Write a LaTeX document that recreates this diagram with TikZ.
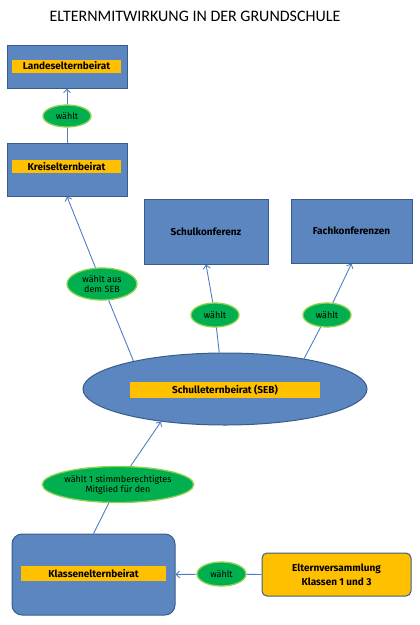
\documentclass[tikz,border=0pt]{standalone}
\usepackage{fontspec}
\setmainfont{Carlito}
\newfontfamily\labelFont{Fira Sans}
\usetikzlibrary{shapes.geometric,arrows.meta}

\begin{document}
\begin{tikzpicture}[x=1pt, y=-1pt,
    box/.style={rectangle, draw=borderColour, fill=fillColourBox, line width=1pt, inner sep=0pt,
        font=\labelFont\bfseries\fontsize{10}{11}\selectfont},
    labelBar/.style={rectangle, fill=fillColourLabel, inner sep=0pt, minimum height=13,
        font=\labelFont\bfseries\fontsize{10}{11}\selectfont},
    vote/.style={ellipse, draw=voteBorder, fill=voteFill, line width=1.3pt, inner sep=0pt,
        align=center, font=\labelFont\fontsize{9}{10}\selectfont},
    link/.style={draw=linkColour, line width=0.9pt},
    linkArrow/.style={link, -{Straight Barb[length=3.5pt,width=7pt]}}]

    \definecolor{borderColour}{HTML}{385D8A}
    \definecolor{fillColourBox}{HTML}{5B86C0}
    \definecolor{fillColourLabel}{HTML}{FFC000}
    \definecolor{voteFill}{HTML}{00B050}
    \definecolor{voteBorder}{HTML}{92D050}
    \definecolor{linkColour}{HTML}{4F7FBE}

    \useasboundingbox (0,0) rectangle (420,625);

    % Title
    \node[font=\fontsize{16}{18}\selectfont] (title) at (195,16) {ELTERNMITWIRKUNG IN DER GRUNDSCHULE};

    % Upper boards
    \node[box, minimum width=120, minimum height=43] (landes) at (67,66.5) {};
    \node[labelBar, minimum width=109] (landesLabel) at (66.5,66) {Landeselternbeirat};
    \node[box, minimum width=120, minimum height=53] (kreis) at (67,169.5) {};
    \node[labelBar, minimum width=109] (kreisLabel) at (66.5,166.5) {Kreiselternbeirat};
    \node[box, minimum width=124, minimum height=65] (schulkonf) at (206,231.5) {Schulkonferenz};
    \node[box, minimum width=121, minimum height=64] (fachkonf) at (351.5,231) {Fachkonferenzen};

    % School parents' council
    \node[ellipse, draw=borderColour, fill=fillColourBox, line width=1pt, inner sep=0pt,
        minimum width=284, minimum height=72] (seb) at (225,389) {};
    \node[labelBar, minimum width=190, minimum height=16] (sebLabel) at (225,390) {Schulleternbeirat (SEB)};

    % Class level
    \node[box, rounded corners=10, minimum width=163, minimum height=81] (klassen) at (93.5,574.5) {};
    \node[labelBar, minimum width=145, minimum height=15] (klassenLabel) at (93.5,573.5) {Klassenelternbeirat};
    \node[rectangle, rounded corners=5, draw=borderColour, fill=fillColourLabel, line width=1pt,
        minimum width=149, minimum height=43, align=center,
        font=\labelFont\bfseries\fontsize{10}{14}\selectfont] (eltern) at (336.5,574.5)
        {Elternversammlung\\Klassen 1 und 3};

    % Elections
    \node[vote, minimum width=48, minimum height=22] (wahlLandes) at (67,116) {wählt};
    \node[vote, minimum width=70, minimum height=32] (wahlKreis) at (102,284) {wählt aus\\dem SEB};
    \node[vote, minimum width=48, minimum height=24] (wahlSchulkonf) at (215,315) {wählt};
    \node[vote, minimum width=48, minimum height=24] (wahlFachkonf) at (327,315) {wählt};
    \node[vote, minimum width=150, minimum height=36] (wahlSeb) at (118,484.5) {wählt 1 stimmberechtigtes\\Mitglied für den};
    \node[vote, minimum width=49, minimum height=24] (wahlKlassen) at (221.5,574) {wählt};

    % Draw connectors
    \draw[link] (kreis.north) -- (wahlLandes);
    \draw[linkArrow] (wahlLandes) -- (landes.south);
    \draw[link] (seb.163) -- (wahlKreis);
    \draw[linkArrow] (wahlKreis) -- (kreis.south);
    \draw[link] (seb.99) -- (wahlSchulkonf);
    \draw[linkArrow] (wahlSchulkonf) -- (schulkonf.south);
    \draw[link] (seb.21) -- (wahlFachkonf);
    \draw[linkArrow] (wahlFachkonf) -- (fachkonf.south);
    \draw[link] (klassen.north) -- (wahlSeb);
    \draw[linkArrow] (wahlSeb) -- (seb.207);
    \draw[link] (eltern.west) -- (wahlKlassen);
    \draw[linkArrow] (wahlKlassen) -- (klassen.east);

\end{tikzpicture}
\end{document}
